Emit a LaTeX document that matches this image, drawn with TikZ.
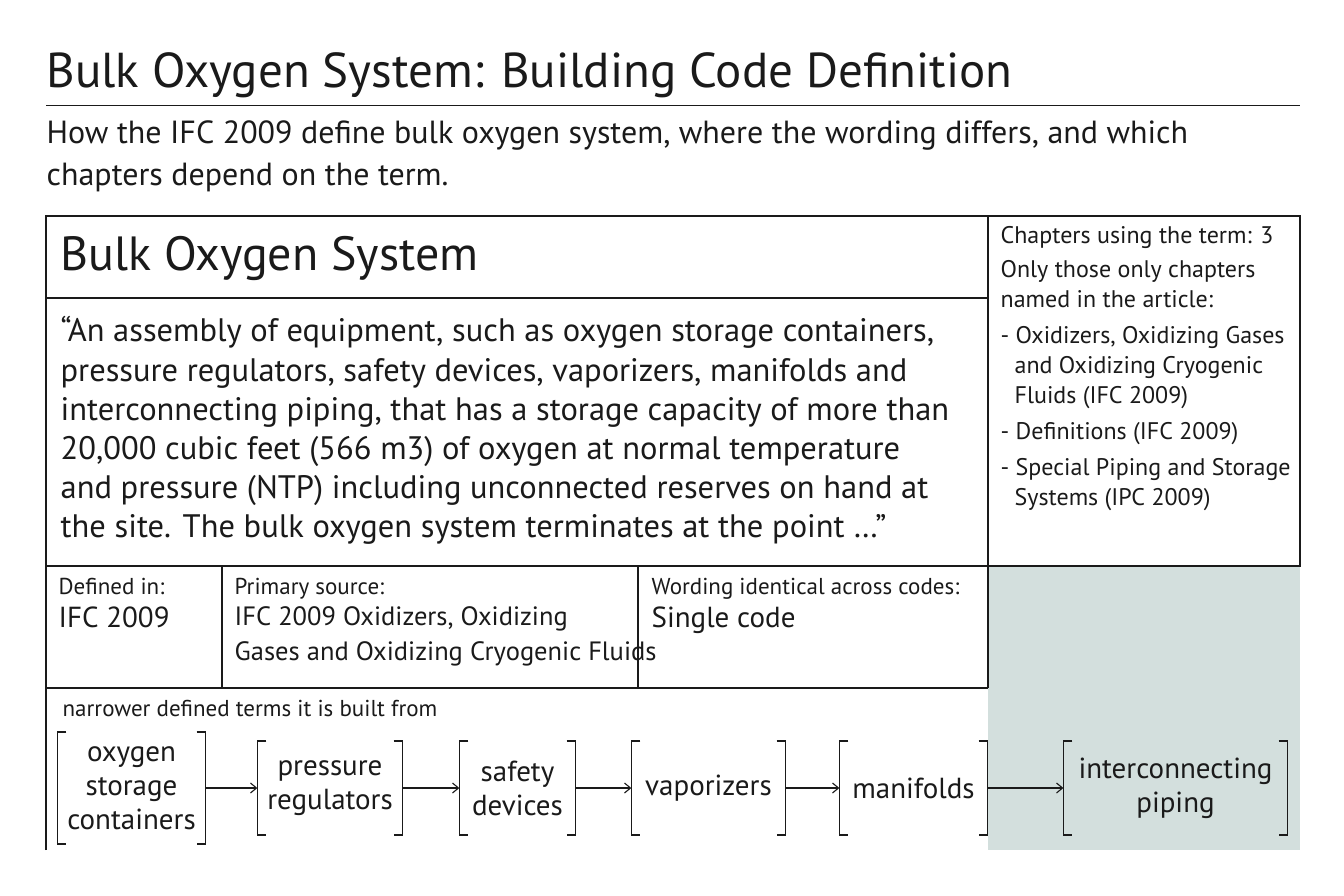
\documentclass[tikz,border=0pt]{standalone}
\usepackage{fontspec}
\setmainfont{PT Sans}
\usetikzlibrary{positioning,arrows.meta}
\definecolor{panelgrey}{HTML}{D3DFDD}
\definecolor{ink}{HTML}{1A1A1A}
\begin{document}
\begin{tikzpicture}[x=1pt,y=-1pt,line width=1.3pt,draw=ink,text=ink,
	lbl/.style = {anchor=north west, inner sep=0pt, align=left},
	term/.style = {inner sep=0pt, align=center, font=\fontsize{29}{34}\selectfont, minimum height=100pt},
	flow/.style = {-{Straight Barb[length=6pt,width=10pt]}, line width=1.1pt}]
	\useasboundingbox (0,0) rectangle (1344,896);
	\fill[white] (0,0) rectangle (1344,896);
	% title and subtitle
	\node[lbl,anchor=base west,font=\fontsize{49}{54}\selectfont] (title) at (46,88) {Bulk Oxygen System: Building Code Definition};
	\draw[line width=1pt] (46,106) -- (1300,106);
	\node[lbl,font=\fontsize{32}{42}\selectfont] (sub) at (46,120) {How the IFC 2009 define bulk oxygen system, where the wording differs, and which\\ chapters depend on the term.};
	% frame
	\fill[panelgrey] (988,566) rectangle (1300,850);
	\draw (46,850) -- (46,216) -- (1300,216) -- (1300,566) -- (988,566);
	\draw (988,216) -- (988,688);
	\draw (46,298) -- (988,298);
	\draw (46,566) -- (988,566);
	\draw (46,688) -- (988,688);
	\draw (222,566) -- (222,688);
	\draw (638,566) -- (638,688);
	% header and quote
	\node[lbl,font=\fontsize{48}{52}\selectfont] (head) at (60,236) {Bulk Oxygen System};
	\node[lbl,font=\fontsize{32.5}{39.2}\selectfont] (quote) at (60,316) {``An assembly of equipment, such as oxygen storage containers,\\ pressure regulators, safety devices, vaporizers, manifolds and\\ interconnecting piping, that has a storage capacity of more than\\ 20,000 cubic feet (566 m3) of oxygen at normal temperature\\ and pressure (NTP) including unconnected reserves on hand at\\ the site. The bulk oxygen system terminates at the point \dots''};
	% side column
	\node[lbl,font=\fontsize{24}{30}\selectfont] (side) at (1000,226) {Chapters using the term: 3\\[4pt]
		Only those only chapters\\ named in the article:\\[6pt]
		- Oxidizers, Oxidizing Gases\\ \hspace*{14pt}and Oxidizing Cryogenic\\ \hspace*{14pt}Fluids (IFC 2009)\\[6pt]
		- Definitions (IFC 2009)\\[6pt]
		- Special Piping and Storage\\ \hspace*{14pt}Systems (IPC 2009)};
	% facts row
	\node[lbl,font=\fontsize{23}{28}\selectfont] (defk) at (58,578) {Defined in:};
	\node[lbl,font=\fontsize{29}{35}\selectfont] (defv) at (58,606) {IFC 2009};
	\node[lbl,font=\fontsize{23}{28}\selectfont] (srck) at (234,578) {Primary source:};
	\node[lbl,font=\fontsize{26.5}{35}\selectfont] (srcv) at (234,606) {IFC 2009 Oxidizers, Oxidizing\\ Gases and Oxidizing Cryogenic Fluids};
	\node[lbl,font=\fontsize{23}{28}\selectfont] (wrdk) at (651,578) {Wording identical across codes:};
	\node[lbl,font=\fontsize{29}{35}\selectfont] (wrdv) at (651,606) {Single code};
	% narrower terms
	\node[lbl,font=\fontsize{23}{28}\selectfont] (terms) at (62,700) {narrower defined terms it is built from};
	\node[term,minimum width=147pt] (t1) at (131.5,788) {oxygen\\ storage\\ containers};
	\node[term,minimum width=144pt] (t2) at (330,788) {pressure\\ regulators};
	\node[term,minimum width=115pt] (t3) at (517.5,788) {safety\\ devices};
	\node[term,minimum width=153pt] (t4) at (708.5,788) {vaporizers};
	\node[term,minimum width=147pt] (t5) at (913.5,788) {manifolds};
	\node[term,minimum width=223pt] (t6) at (1175.5,788) {interconnecting\\ piping};
	\foreach \n/\h in {t1/56,t2/47,t3/47,t4/47,t5/47,t6/47}{
		\draw ([xshift=9pt,yshift=\h pt]\n.center -| \n.west) -- ([yshift=\h pt]\n.center -| \n.west) -- ([yshift=-\h pt]\n.center -| \n.west) -- ++(9,0);
		\draw ([xshift=-9pt,yshift=\h pt]\n.center -| \n.east) -- ([yshift=\h pt]\n.center -| \n.east) -- ([yshift=-\h pt]\n.center -| \n.east) -- ++(-9,0);
	}
	\draw[flow] (t1) -- (t2);
	\draw[flow] (t2) -- (t3);
	\draw[flow] (t3) -- (t4);
	\draw[flow] (t4) -- (t5);
	\draw[flow] (t5) -- (t6);
\end{tikzpicture}
\end{document}
